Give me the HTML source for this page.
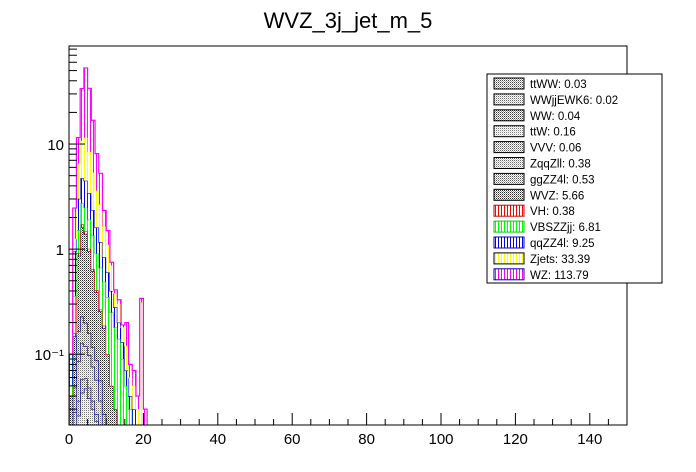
<!DOCTYPE html>
<html><head><meta charset="utf-8">
<style>
html,body{margin:0;padding:0;background:#fff;overflow:hidden;width:696px;height:472px;}
svg{display:block;}
svg text{font-family:"Liberation Sans",Arial,sans-serif;}
</style></head>
<body>
<svg id="chart" width="696" height="472" viewBox="0 0 696 472" xmlns="http://www.w3.org/2000/svg" style="width:696px;height:472px;overflow:hidden">
<defs>
<pattern id="vl-magenta" width="3" height="4" patternUnits="userSpaceOnUse"><rect width="3" height="4" fill="#fff"/><rect width="1" height="4" fill="#ff00ff"/></pattern>
<pattern id="vl-yellow" width="3" height="4" patternUnits="userSpaceOnUse"><rect width="3" height="4" fill="#fff"/><rect width="1" height="4" fill="#ffff00"/></pattern>
<pattern id="vl-blue" width="3" height="4" patternUnits="userSpaceOnUse"><rect width="3" height="4" fill="#fff"/><rect width="1" height="4" fill="#0000ff"/></pattern>
<pattern id="vl-green" width="3" height="4" patternUnits="userSpaceOnUse"><rect width="3" height="4" fill="#fff"/><rect width="1" height="4" fill="#00ff00"/></pattern>
<pattern id="vl-red" width="3" height="4" patternUnits="userSpaceOnUse"><rect width="3" height="4" fill="#fff"/><rect width="1" height="4" fill="#ff0000"/></pattern>
<pattern id="ck-wvz" width="2" height="2" patternUnits="userSpaceOnUse"><rect width="2" height="2" fill="#fff"/><rect width="1" height="1" fill="#222"/><rect x="1" y="1" width="1" height="1" fill="#8888cc"/></pattern>
<pattern id="ck-gg" width="2" height="2" patternUnits="userSpaceOnUse"><rect width="2" height="2" fill="#fff"/><rect width="1" height="1" fill="#555"/><rect x="1" y="1" width="1" height="1" fill="#88cc88"/></pattern>
<pattern id="ck-cyan" width="2" height="2" patternUnits="userSpaceOnUse"><rect width="2" height="2" fill="#fff"/><rect width="1" height="1" fill="#666"/><rect x="1" y="1" width="1" height="1" fill="#66eeee"/></pattern>
<pattern id="ck-mag" width="2" height="2" patternUnits="userSpaceOnUse"><rect width="2" height="2" fill="#fff"/><rect width="1" height="1" fill="#555"/><rect x="1" y="1" width="1" height="1" fill="#ee88ee"/></pattern>
<pattern id="ck-yel" width="2" height="2" patternUnits="userSpaceOnUse"><rect width="2" height="2" fill="#fff"/><rect width="1" height="1" fill="#777"/><rect x="1" y="1" width="1" height="1" fill="#eeee88"/></pattern>
<pattern id="ck-blue" width="2" height="2" patternUnits="userSpaceOnUse"><rect width="2" height="2" fill="#fff"/><rect width="1" height="1" fill="#333"/><rect x="1" y="1" width="1" height="1" fill="#8888ee"/></pattern>
<pattern id="ck-green" width="2" height="2" patternUnits="userSpaceOnUse"><rect width="2" height="2" fill="#fff"/><rect width="1" height="1" fill="#666"/><rect x="1" y="1" width="1" height="1" fill="#99ee99"/></pattern>
<pattern id="ck-red" width="2" height="2" patternUnits="userSpaceOnUse"><rect width="2" height="2" fill="#fff"/><rect width="1" height="1" fill="#444"/><rect x="1" y="1" width="1" height="1" fill="#ee8888"/></pattern>
<clipPath id="frameclip"><rect x="69" y="46" width="558" height="379"/></clipPath>
</defs>
<text x="348" y="28" text-anchor="middle" font-size="22">WVZ_3j_jet_m_5</text>
<g id="bars" clip-path="url(#frameclip)"></g>
<rect x="69" y="46" width="558" height="379" fill="none" stroke="#000" stroke-width="1"/>
<g id="axes"></g>
<g id="legend"></g>
</svg>
<script>
const categories = [0,1,2,3,4,5,6,7,8,9,10,11,12,13,14,15,16,17,18,19,20];
const seriesNames = ["ttWW","WWjjEWK6","WW","ttW","VVV","ZqqZll","ggZZ4l","WVZ","VH","VBSZZjj","qqZZ4l","Zjets","WZ"];
const legendLabels = ["ttWW: 0.03","WWjjEWK6: 0.02","WW: 0.04","ttW: 0.16","VVV: 0.06","ZqqZll: 0.38","ggZZ4l: 0.53","WVZ: 5.66","VH: 0.38","VBSZZjj: 6.81","qqZZ4l: 9.25","Zjets: 33.39","WZ: 113.79"];
const ttWW =     [0,0,0.002,0.004,0.005,0.004,0.003,0.002,0.001,0.001,0,0,0,0,0,0,0,0,0,0,0];
const WWjjEWK6 = [0,0,0.001,0.003,0.004,0.003,0.002,0.002,0.001,0,0,0,0,0,0,0,0,0,0,0,0];
const WW =       [0,0,0.003,0.006,0.008,0.006,0.005,0.004,0.002,0.001,0,0,0,0,0,0,0,0,0,0,0];
const ttW =      [0,0.005,0.02,0.03,0.03,0.025,0.02,0.015,0.01,0.005,0,0,0,0,0,0,0,0,0,0,0];
const VVV =      [0,0.003,0.01,0.015,0.012,0.01,0.006,0.004,0.002,0,0,0,0,0,0,0,0,0,0,0,0];
const ZqqZll =   [0,0.02,0.05,0.07,0.06,0.05,0.04,0.03,0.02,0.01,0.01,0,0,0,0,0,0,0,0,0,0];
const ggZZ4l =   [0.01,0.02,0.08,0.1,0.08,0.06,0.04,0.03,0.02,0.01,0.01,0,0,0,0,0,0,0,0,0,0];
const WVZ =      [0.03,0.1,0.7,1.4,1.2,0.8,0.5,0.3,0.2,0.15,0.08,0.05,0.03,0.02,0.01,0,0,0,0,0,0];
const VH =       [0,0.01,0.05,0.1,0.08,0.05,0.03,0.02,0.01,0.01,0,0,0,0,0,0,0,0,0,0,0];
const VBSZZjj =  [0.01,0.2,0.6,1.0,1.0,0.9,0.7,0.5,0.4,0.3,0.25,0.2,0.15,0.12,0.08,0.05,0.03,0.02,0.01,0.01,0];
const qqZZ4l =   [0.05,0.6,1.5,2.0,2.0,1.5,1.0,0.7,0.5,0.35,0.25,0.15,0.1,0.06,0.04,0.02,0.01,0.01,0.01,0,0];
const Zjets =    [0,0.3,3.5,6,7,5,3,2,1.5,0.8,0.5,0.3,0.1,0.1,0.05,0.05,0.02,0.02,0.01,0.3,0];
const WZ =       [0,1.2,5.0,23,41.5,25.5,11.5,4.5,2.6,0.7,0.4,0.05,0.03,0.03,0.01,0.08,0.02,0.02,0.01,0.03,0.03];
const xTicks = [0,20,40,60,80,100,120,140];
const yTickLabels = ["10\u207B\u00B9","1","10"];
const yTickValues = [0.1,1,10];

const seriesData = [ttWW,WWjjEWK6,WW,ttW,VVV,ZqqZll,ggZZ4l,WVZ,VH,VBSZZjj,qqZZ4l,Zjets,WZ];
const fills = ["url(#ck-red)","url(#ck-green)","url(#ck-blue)","url(#ck-yel)","url(#ck-mag)","url(#ck-cyan)","url(#ck-gg)","url(#ck-wvz)","url(#vl-red)","url(#vl-green)","url(#vl-blue)","url(#vl-yellow)","url(#vl-magenta)"];
const strokes = ["#0000aa","#0000aa","#0000aa","#0000aa","#0000aa","#0000aa","#0000aa","#0000aa","#ff0000","#00ee00","#0000ff","#ffff00","#ff00ff"];
const legStrokes = ["#000","#000","#000","#000","#000","#000","#000","#000","#cc0000","#00cc00","#0000cc","#000","#0000aa"];

const X0=69,X1=627,Y0=46,Y1=425;
const xMin=0,xMax=150,yMinLog=Math.log10(0.0212),yMaxLog=Math.log10(85.7);
function xs(v){return X0+(v-xMin)/(xMax-xMin)*(X1-X0);}
function ys(v){if(v<=0)return Y1+2;const l=Math.log10(v);const y=Y1-(l-yMinLog)/(yMaxLog-yMinLog)*(Y1-Y0);return Math.min(y,Y1+2);}
const NS="http://www.w3.org/2000/svg";
function mk(tag,attrs,parent){const e=document.createElementNS(NS,tag);for(const k in attrs)e.setAttribute(k,attrs[k]);parent.appendChild(e);return e;}

const bars=document.getElementById('bars');
const cum=categories.map(()=>0);
seriesData.forEach((arr,si)=>{
  const g=mk('g',{},bars);
  
  
  const tops=[];
  categories.forEach((c,i)=>{
    const lo=cum[i],hi=cum[i]+arr[i];
    tops.push(hi);
    const yt=ys(hi),yb=ys(lo);
    if(arr[i]>0 && yb-yt>0){
      const r=mk('rect',{x:xs(c),y:yt,width:xs(c+1)-xs(c),height:yb-yt,fill:fills[si]},g);
      
      
    }
    cum[i]=hi;
  });
  let d='M'+xs(categories[0])+','+(Y1+2);
  categories.forEach((c,i)=>{
    const y=ys(tops[i]);
    d+=' L'+xs(c)+','+y+' L'+xs(c+1)+','+y;
  });
  d+=' L'+xs(categories[categories.length-1]+1)+','+(Y1+2);
  const p=mk('path',{d:d,fill:'none',stroke:strokes[si],'stroke-width':1.2},g);
  
  
});

const ax=document.getElementById('axes');
for(let v=0;v<=150;v+=5){
  const major=v%20===0;
  mk('line',{x1:xs(v),x2:xs(v),y1:Y1,y2:Y1-(major?12:6),stroke:'#000'},ax);
}
xTicks.forEach(v=>{
  const t=mk('text',{x:xs(v),y:Y1+19,'text-anchor':'middle','font-size':15},ax);
  t.textContent=v;
  
  
});
for(let d=-2;d<=1;d++){
  for(let m=1;m<=9;m++){
    const v=m*Math.pow(10,d);
    const l=Math.log10(v);
    const y=Y1-(l-yMinLog)/(yMaxLog-yMinLog)*(Y1-Y0);
    if(y<Y0||y>Y1)continue;
    mk('line',{x1:X0,x2:X0+(m===1?16:8),y1:y,y2:y,stroke:'#000'},ax);
  }
}
yTickValues.forEach((v,i)=>{
  const t=mk('text',{x:X0-5,y:ys(v)+6,'text-anchor':'end','font-size':15},ax);
  t.textContent=yTickLabels[i];
  
  
});

const lg=document.getElementById('legend');
const box=mk('rect',{x:487,y:74,width:175,height:209,fill:'#fff',stroke:'#000'},lg);


legendLabels.forEach((lab,i)=>{
  const y=78+i*15.9;
  const g=mk('g',{},lg);
  
  
  mk('rect',{x:494,y:y,width:30,height:11,fill:fills[i],stroke:legStrokes[i],'stroke-width':1},g);
  const t=mk('text',{x:530,y:y+10,'font-size':11.5},g);
  t.textContent=lab;
});
</script>
</body></html>
